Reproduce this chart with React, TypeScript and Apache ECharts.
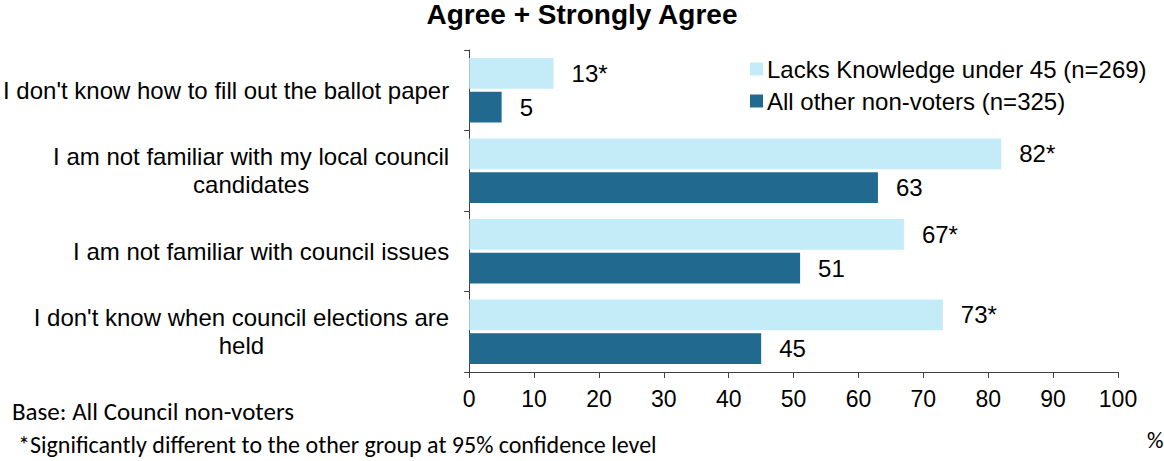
import React, { useEffect, useRef } from "react";
import * as echarts from "echarts";

const categories = [
  "I don't know how to fill out the ballot paper",
  "I am not familiar with my local council\ncandidates",
  "I am not familiar with council issues",
  "I don't know when council elections are\nheld",
];
const seriesNames = ["Lacks Knowledge under 45 (n=269)", "All other non-voters (n=325)"];
const lacksKnowledge = [13, 82, 67, 73];
const otherNonVoters = [5, 63, 51, 45];
const lacksSignificant = [true, true, true, true];
const otherSignificant = [false, false, false, false];
const titleText = "Agree + Strongly Agree";
const baseNote = "Base: All Council non-voters";
const sigNote = "*Significantly different to the other group at 95% confidence level";
const unitLabel = "%";

const FONT = "'Liberation Sans', Arial, sans-serif";
const NOTE_FONT = "Carlito, Lato, 'Noto Sans', sans-serif";
const LIGHT = "#C3EBF8";
const DARK = "#21698F";

export default function App() {
  const ref = useRef<HTMLDivElement>(null);
  useEffect(() => {
    if (!ref.current) return;
    const chart = echarts.init(ref.current, undefined, { renderer: "svg" });
    const mkLabel = (flags: boolean[]) => ({
      show: true,
      position: "right",
      distance: 18,
      fontFamily: FONT,
      fontSize: 24,
      color: "#000",
      formatter: (p: any) => `${p.value}${flags[p.dataIndex] ? "*" : ""}`,
    });
    chart.setOption({
      animation: false,
      backgroundColor: "#fff",
      title: {
        text: titleText,
        left: "center",
        top: 0,
        padding: 0,
        textStyle: { fontFamily: FONT, fontSize: 28, fontWeight: "bold", color: "#000", lineHeight: 28 },
      },
      legend: {
        orient: "vertical",
        left: 745,
        top: 52,
        itemWidth: 13,
        itemHeight: 13,
        itemGap: 8,
        icon: "rect",
        textStyle: { fontFamily: FONT, fontSize: 24, color: "#000", lineHeight: 24, padding: [0, 0, 0, -1] },
        data: seriesNames,
      },
      grid: { left: 468, right: 46, top: 50, bottom: 89, containLabel: false },
      xAxis: {
        type: "value",
        min: 0,
        max: 100,
        interval: 10,
        axisLine: { show: true, lineStyle: { color: "#404040", width: 1 } },
        axisTick: { show: true, length: 6, lineStyle: { color: "#404040" } },
        axisLabel: { fontFamily: FONT, fontSize: 23, color: "#000", margin: 15 },
        splitLine: { show: false },
      },
      yAxis: {
        type: "category",
        inverse: true,
        data: categories,
        axisLine: { show: true, lineStyle: { color: "#404040", width: 1 } },
        axisTick: { show: true, length: 5, lineStyle: { color: "#404040" } },
        axisLabel: {
          margin: 20,
          fontFamily: FONT,
          fontSize: 24,
          color: "#000",
          lineHeight: 28,
          formatter: (v: string) => v.split("\n").map((l) => `{c|${l}}`).join("\n"),
          rich: {
            c: { align: "center", fontFamily: FONT, fontSize: 24, color: "#000", lineHeight: 28 },
          },
        },
      },
      series: [
        {
          name: seriesNames[0],
          type: "bar",
          data: lacksKnowledge,
          barCategoryGap: "20%",
          barGap: "10%",
          itemStyle: { color: LIGHT },
          label: mkLabel(lacksSignificant),
        },
        {
          name: seriesNames[1],
          type: "bar",
          data: otherNonVoters,
          barCategoryGap: "20%",
          barGap: "10%",
          itemStyle: { color: DARK },
          label: mkLabel(otherSignificant),
        },
      ],
      graphic: [
        {
          type: "text",
          left: 12,
          top: 399,
          style: { text: baseNote, fontFamily: NOTE_FONT, fontSize: 25, fill: "#000" },
        },
        {
          type: "text",
          left: 18,
          top: 432,
          style: { text: sigNote, fontFamily: NOTE_FONT, fontSize: 24, fill: "#000" },
        },
        {
          type: "text",
          left: 1147,
          top: 428,
          style: { text: unitLabel, fontFamily: NOTE_FONT, fontSize: 23, fill: "#000" },
        },
      ],
    });
    return () => chart.dispose();
  }, []);
  return (
    <div
      ref={ref}
      style={{ position: "fixed", left: 0, top: 0, width: 1164, height: 461 }}
    />
  );
}
